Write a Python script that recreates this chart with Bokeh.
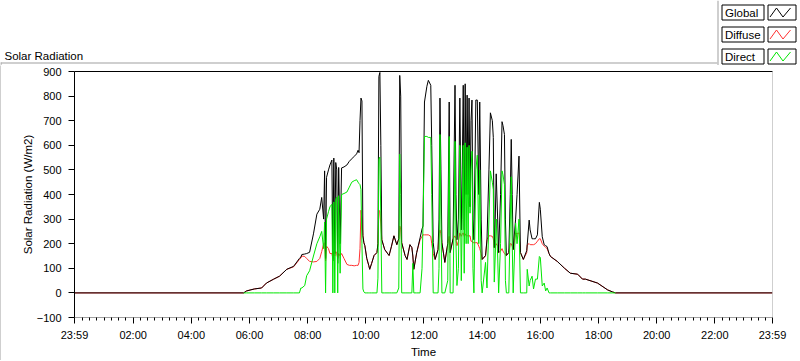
import numpy as np
from bokeh.plotting import figure
from bokeh.layouts import column, row
from bokeh.models import FixedTicker, Span, Range1d, LinearAxis
from bokeh.core.properties import value
from bokeh.embed import file_html
from bokeh.resources import INLINE

# ---------------- data ----------------
times = ["00:00", "05:48", "05:54", "06:10", "06:25", "06:35", "06:50", "07:02", "07:17", "07:31",
         "07:43", "07:46", "07:48", "07:54", "07:58", "08:04", "08:12", "08:19", "08:25", "08:29",
         "08:33", "08:35", "08:37", "08:39", "08:43", "08:46", "08:50", "08:52", "08:54", "08:56",
         "08:58", "09:00", "09:02", "09:04", "09:07", "09:10", "09:15", "09:21", "09:26", "09:31",
         "09:36", "09:41", "09:44", "09:46", "09:48", "09:50", "09:52", "09:54", "09:56", "09:58",
         "10:02", "10:06", "10:08", "10:12", "10:17", "10:23", "10:25", "10:27", "10:29", "10:31",
         "10:33", "10:39", "10:48", "10:53", "10:58", "11:04", "11:08", "11:10", "11:12", "11:14",
         "11:21", "11:25", "11:31", "11:35", "11:37", "11:39", "11:45", "11:52", "11:56", "11:58",
         "12:01", "12:06", "12:09", "12:14", "12:16", "12:19", "12:23", "12:29", "12:31", "12:33",
         "12:35", "12:37", "12:43", "12:49", "12:52", "12:54", "13:00", "13:04", "13:06", "13:08",
         "13:11", "13:14", "13:17", "13:19", "13:21", "13:23", "13:25", "13:27", "13:29", "13:31",
         "13:33", "13:35", "13:37", "13:39", "13:41", "13:43", "13:47", "13:50", "13:53", "13:55",
         "13:58", "14:00", "14:07", "14:10", "14:14", "14:17", "14:21", "14:23", "14:25", "14:27",
         "14:29", "14:32", "14:34", "14:38", "14:41", "14:43", "14:46", "14:48", "14:50", "14:55",
         "14:58", "15:00", "15:02", "15:04", "15:09", "15:12", "15:16", "15:19", "15:25", "15:32",
         "15:33", "15:37", "15:39", "15:43", "15:46", "15:50", "15:54", "15:58", "16:00", "16:04",
         "16:08", "16:11", "16:14", "16:18", "16:21", "16:35", "16:50", "17:02", "17:17", "17:27",
         "17:33", "17:58", "18:19", "18:29", "18:35", "23:59"]

global_wm2 = [0, 0, 8, 16, 20, 40, 56, 68, 96, 108,
              140, 146, 156, 158, 160, 165, 240, 320, 340, 388,
              300, 496, 140, 470, 500, 520, 540, 130, 548, 160,
              530, 500, 120, 510, 200, 508, 512, 520, 535, 545,
              555, 565, 580, 570, 700, 792, 780, 232, 204, 192,
              140, 112, 96, 120, 152, 164, 200, 880, 896, 600,
              216, 176, 152, 190, 232, 196, 220, 884, 800, 204,
              152, 136, 196, 184, 150, 96, 164, 224, 260, 272,
              776, 840, 864, 844, 600, 204, 136, 176, 300, 792,
              500, 204, 124, 200, 776, 164, 220, 844, 400, 216,
              300, 792, 256, 500, 844, 256, 850, 400, 804, 400,
              792, 350, 700, 784, 300, 216, 784, 784, 400, 776,
              300, 136, 152, 216, 500, 732, 700, 632, 184, 300,
              484, 300, 164, 400, 696, 680, 644, 300, 152, 164,
              400, 624, 400, 176, 300, 400, 556, 164, 136, 172,
              196, 296, 256, 220, 220, 220, 236, 368, 340, 228,
              196, 192, 188, 160, 148, 128, 100, 80, 76, 56,
              56, 40, 12, 4, 0, 0]

diffuse_wm2 = [0, 0, 8, 16, 20, 40, 56, 68, 96, 106,
               136, 142, 150, 148, 140, 128, 126, 128, 140, 168,
               200, 204, 130, 190, 180, 160, 160, 140, 168, 150,
               168, 160, 140, 160, 150, 160, 140, 116, 112, 112,
               110, 112, 112, 124, 180, 336, 300, 232, 204, 192,
               140, 112, 96, 120, 152, 164, 200, 336, 330, 280,
               216, 176, 152, 190, 232, 196, 220, 272, 260, 204,
               152, 136, 196, 184, 150, 96, 164, 216, 230, 236,
               236, 236, 236, 230, 200, 160, 136, 176, 240, 256,
               240, 204, 124, 200, 230, 164, 220, 232, 220, 192,
               210, 244, 230, 240, 244, 230, 240, 232, 232, 232,
               232, 232, 210, 210, 204, 204, 204, 204, 190, 180,
               160, 136, 150, 216, 232, 232, 230, 220, 184, 190,
               200, 190, 164, 170, 180, 170, 160, 155, 152, 164,
               200, 200, 190, 176, 244, 240, 244, 164, 136, 164,
               196, 200, 196, 196, 196, 200, 210, 220, 220, 200,
               190, 185, 180, 160, 148, 128, 100, 80, 76, 56,
               56, 40, 12, 4, 0, 0]

direct_wm2 = [None, 0, 0, 0, 0, 0, 0, 0, 0, 0,
              0, 20, 20, 30, 70, 90, 150, 200, 228, 250,
              180, 288, 0, 300, 330, 350, 360, 0, 370, 0,
              380, 390, 0, 395, 80, 400, 404, 410, 430, 450,
              456, 460, 450, 444, 440, 420, 200, 16, 4, 0,
              0, 0, 0, 0, 0, 0, 60, 544, 552, 300,
              0, 0, 0, 0, 0, 0, 20, 564, 400, 0,
              0, 0, 0, 0, 120, 0, 0, 0, 100, 280,
              636, 636, 632, 632, 400, 0, 0, 0, 100, 644,
              300, 0, 0, 50, 636, 0, 0, 616, 200, 30,
              100, 600, 50, 300, 600, 80, 610, 200, 592, 200,
              600, 324, 500, 576, 100, 0, 500, 560, 200, 500,
              50, 0, 124, 20, 300, 496, 450, 420, 44, 150,
              300, 150, 0, 200, 496, 480, 440, 50, 0, 0,
              300, 472, 200, 0, 284, 200, 300, 0, 0, 0,
              96, 28, 50, 68, 16, 56, 56, 148, 144, 28,
              40, 8, 20, 0, 0, 0, 0, 0, 0, 0,
              0, 0, 0, 0, 0, None]

y_ticks = [-100, 0, 100, 200, 300, 400, 500, 600, 700, 800, 900]
x_ticks = [-1, 120, 240, 360, 480, 600, 720, 840, 960, 1080, 1200, 1320, 1439]
x_tick_labels = ["23:59", "02:00", "04:00", "06:00", "08:00", "10:00", "12:00",
                 "14:00", "16:00", "18:00", "20:00", "22:00", "23:59"]
series_names = ["Global", "Diffuse", "Direct"]
series_colors = ["#000000", "#FF3030", "#00E600"]
chart_title = "Solar Radiation"


def to_min(s):
    h, m = s.split(":")
    return int(h) * 60 + int(m)


x = np.array([to_min(t) for t in times], dtype=float)
g = np.array(global_wm2, dtype=float)
d = np.array(diffuse_wm2, dtype=float)
b = np.array(direct_wm2, dtype=float)

FONT = "Liberation Sans"
GRAY = "#A0A0A0"
W = 800
HEAD_H = 65
MAIN_H = 295


def strip(width, height, color):
    s = figure(width=width, height=height, title=None, x_range=Range1d(0, 1), y_range=Range1d(0, 1),
               x_axis_type=None, y_axis_type=None, output_backend="svg", toolbar_location=None,
               min_border=0)
    s.frame_align = False
    s.outline_line_color = None
    s.grid.visible = False
    s.background_fill_color = color
    s.border_fill_color = color
    return s


# ---------------- header strip: title + legend (pixel coordinates) ----------------
hd = figure(width=W, height=HEAD_H, title=None, x_range=Range1d(0, W), y_range=Range1d(HEAD_H, 0),
            x_axis_type=None, y_axis_type=None, output_backend="svg", toolbar_location=None,
            min_border=0)
hd.frame_align = False
hd.outline_line_color = None
hd.grid.visible = False
hd.background_fill_color = "white"
hd.border_fill_color = "white"

hd.text(x=[4], y=[55.5], text=[chart_title], text_baseline="alphabetic", text_align="left",
        text_font=value(FONT), text_font_size="11.5px", text_color="black")
hd.quad(left=[0], right=[717], top=[62], bottom=[63], fill_color=GRAY, line_color=None)
hd.quad(left=[0], right=[1], top=[62], bottom=[HEAD_H], fill_color=GRAY, line_color=None)
hd.quad(left=[717], right=[W], top=[0], bottom=[HEAD_H], fill_color="white", line_color=None)
hd.quad(left=[717], right=[718], top=[0], bottom=[HEAD_H], fill_color=GRAY, line_color=None)

row_tops = [4.5 + 22 * i for i in range(len(series_names))]
row_bots = [t + 15 for t in row_tops]
hd.quad(left=[721.5] * 3, right=[763.5] * 3, top=row_tops, bottom=row_bots,
        fill_color="white", line_color="black", line_width=1)
hd.quad(left=[767.5] * 3, right=[795.5] * 3, top=row_tops, bottom=row_bots,
        fill_color="white", line_color="black", line_width=1)
hd.text(x=[724.5] * 3, y=[t + 8 for t in row_tops], text=series_names, text_baseline="middle",
        text_font=value(FONT), text_font_size="11.5px", text_color="black")
zig_xs = [[769.5, 776, 782.5, 790] for _ in row_tops]
zig_ys = [[bt - 3, t + 3, bt - 3, t + 3] for t, bt in zip(row_tops, row_bots)]
hd.multi_line(xs=zig_xs, ys=zig_ys, line_color=series_colors, line_width=1)

# ---------------- main chart ----------------
p = figure(width=W - 1, height=MAIN_H, title=None,
           x_range=Range1d(-1, 1439), y_range=Range1d(-100, 900),
           output_backend="svg", toolbar_location=None,
           min_border_left=73, min_border_right=28, min_border_top=6, min_border_bottom=39)
p.frame_align = False
p.background_fill_color = "white"
p.border_fill_color = "white"
p.outline_line_color = None
p.grid.visible = False

p.line(x, d, line_color=series_colors[1], line_width=1, line_join="round")
p.line(x, g, line_color=series_colors[0], line_width=1, line_join="round")
p.line(x, b, line_color=series_colors[2], line_width=1, line_join="round")

minor = [m for m in range(15, 1439, 15) if m % 120 != 0]
p.xaxis.ticker = FixedTicker(ticks=x_ticks, minor_ticks=minor)
p.xaxis.major_label_overrides = {t: l for t, l in zip(x_ticks, x_tick_labels)}
p.xaxis.axis_line_color = GRAY
p.xaxis.major_tick_line_color = "black"
p.xaxis.minor_tick_line_color = "black"
p.xaxis.major_tick_out = 6
p.xaxis.major_tick_in = 0
p.xaxis.minor_tick_out = 3
p.xaxis.minor_tick_in = 0
p.xaxis.major_label_standoff = 5
p.xaxis.axis_label = "Time"
p.xaxis.axis_label_standoff = 2

p.yaxis.ticker = FixedTicker(ticks=y_ticks)
p.yaxis.minor_tick_line_color = None
p.yaxis.axis_line_color = "black"
p.yaxis.major_tick_line_color = "black"
p.yaxis.major_tick_out = 6
p.yaxis.major_tick_in = 0
p.yaxis.major_label_standoff = 7
p.yaxis.axis_label = "Solar Radiation (W/m2)"
p.yaxis.axis_label_standoff = 0

for ax in (p.xaxis, p.yaxis):
    ax.major_label_text_font = FONT
    ax.major_label_text_font_size = "11px"
    ax.major_label_text_color = "black"
    ax.axis_label_text_font = FONT
    ax.axis_label_text_font_size = "11.5px"
    ax.axis_label_text_font_style = "normal"
    ax.axis_label_text_color = "black"

top_ax = LinearAxis(ticker=FixedTicker(ticks=[]), axis_line_color="black",
                    major_tick_line_color=None, minor_tick_line_color=None,
                    major_label_text_font_size="0px", major_label_standoff=0)
p.add_layout(top_ax, "above")
p.add_layout(Span(location=1439, dimension="height", line_color=GRAY, line_width=1))

left_edge = strip(1, MAIN_H, GRAY)
footer = strip(W, 1, "black")

layout = column(hd, row(left_edge, p, spacing=0), footer, spacing=0)
open("out.html", "w").write(file_html(layout, INLINE))
